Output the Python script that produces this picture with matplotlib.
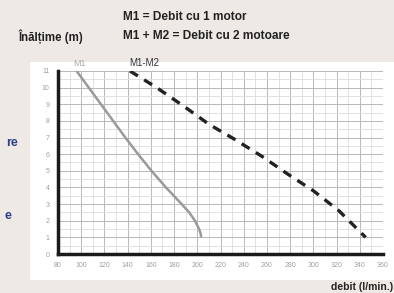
import numpy as np
import matplotlib.pyplot as plt
from matplotlib.patches import Rectangle

plt.rc('font', family=['Liberation Sans', 'DejaVu Sans'])

# debit (l/min) vs inaltime (m)
m1_debit = [96, 106.5, 117, 127.5, 138, 149, 160.5, 173, 186.5, 193, 198, 201.5, 203, 203.3]
m1_h = [11, 10, 9, 8, 7, 6, 5, 4, 3, 2.5, 2, 1.5, 1.2, 1]
m12_debit = [142, 165, 188, 210, 232, 255, 278, 300, 322, 345]
m12_h = [11, 10, 8.9, 7.8, 6.9, 5.9, 4.8, 3.8, 2.6, 1.0]

xticks = [80, 100, 120, 140, 160, 180, 200, 220, 240, 260, 280, 300, 320, 340, 360]
yticks = list(range(0, 12))

fig = plt.figure(figsize=(3.94, 2.93), dpi=100)
fig.patch.set_facecolor('#efe9e6')
fig.patches.append(Rectangle((0.076, 0.044), 0.93, 0.744, transform=fig.transFigure,
                             facecolor='white', edgecolor='none', zorder=-1))

ax = fig.add_axes([0.1472, 0.1331, 0.825, 0.6246])
ax.set_zorder(2)
ax.set_facecolor('white')
ax.plot(m1_debit, m1_h, color='#9a9a9a', lw=1.8, solid_capstyle='butt')
ax.plot(m12_debit, m12_h, color='#222222', lw=2.4, ls=(0, (2.8, 2.2)))

ax.set_xlim(80, 360)
ax.set_ylim(0, 11)
ax.set_xticks(xticks)
ax.set_yticks(yticks)
ax.set_xticks(np.arange(90, 360, 20), minor=True)
ax.set_yticks(np.arange(0.5, 11, 1), minor=True)
ax.grid(which='major', color='#b8b8b8', lw=0.7)
ax.grid(which='minor', color='#dcdcdc', lw=0.6)
ax.tick_params(which='both', length=0, labelsize=5, labelcolor='#a0a0a0', pad=6)

for s in ['top', 'right']:
    ax.spines[s].set_visible(False)
for s in ['left', 'bottom']:
    ax.spines[s].set_linewidth(2.5)
    ax.spines[s].set_color('#1a1a1a')

fig.text(18/394, 1-37/293, 'Înălțime (m)', fontsize=8.3, fontweight='bold', color='#222222', va='center')
fig.text(123/394, 1-17/293, 'M1 = Debit cu 1 motor', fontsize=8.6, fontweight='bold', color='#222222', va='center')
fig.text(123/394, 1-36/293, 'M1 + M2 = Debit cu 2 motoare', fontsize=8.6, fontweight='bold', color='#222222', va='center')
fig.text(79/394, 1-64/293, 'M1', fontsize=6.5, color='#aaaaaa', ha='center', va='center')
fig.text(144/394, 1-63/293, 'M1-M2', fontsize=7, color='#333333', ha='center', va='center')
fig.text(393/394, 1-287/293, 'debit (l/min.)', fontsize=7.5, fontweight='bold', color='#222222', ha='right', va='center')
fig.text(18/394, 1-143/293, 're', fontsize=9, fontweight='bold', color='#2a3f8f', ha='right', va='center')
fig.text(11/394, 1-216/293, 'e', fontsize=9, fontweight='bold', color='#2a3f8f', ha='right', va='center')

plt.savefig('out.png', dpi=100, facecolor=fig.get_facecolor())
